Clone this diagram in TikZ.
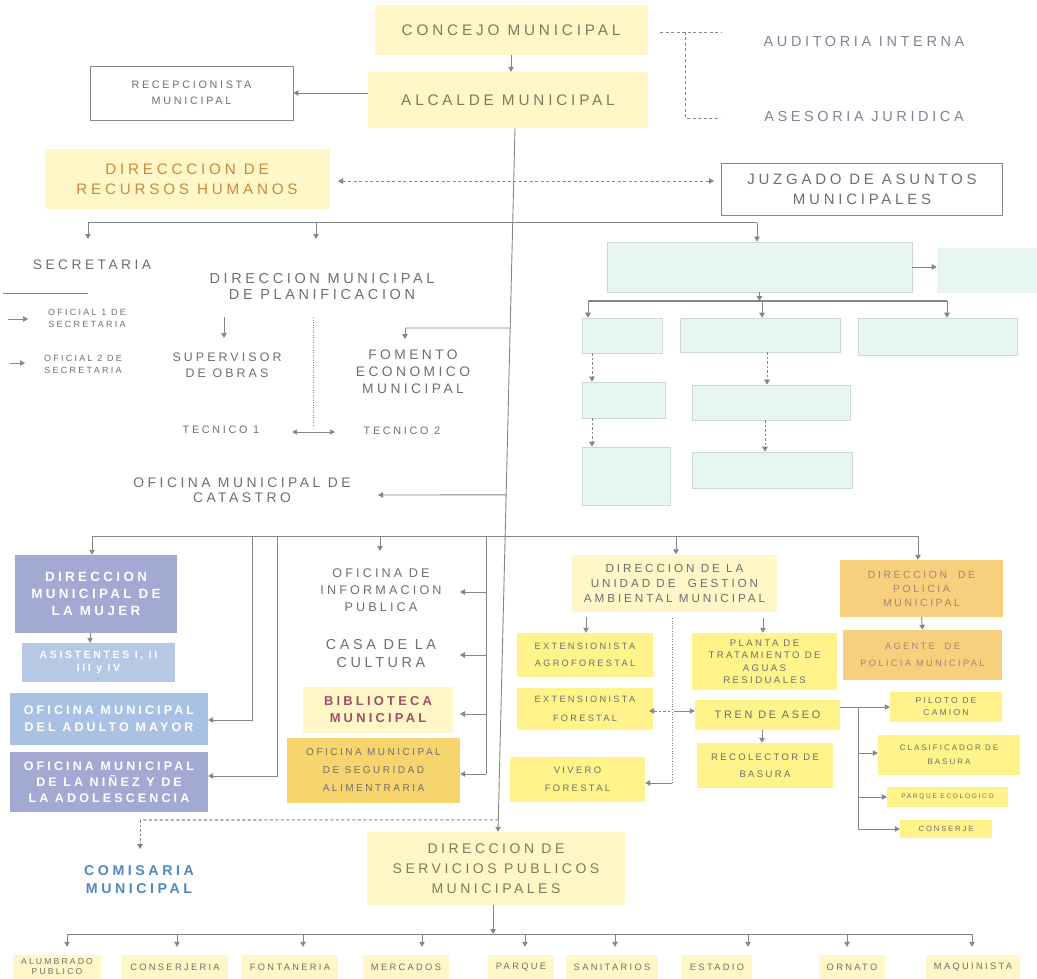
\documentclass[tikz,border=0pt]{standalone}
\usepackage{fontspec}
\setmainfont{Liberation Sans}[LetterSpace=25]
\usetikzlibrary{arrows.meta,calc}
\definecolor{tg}{HTML}{6E6E6E}
\definecolor{lg}{HTML}{858585}
\definecolor{paleY}{HTML}{FFF7C8}
\definecolor{yel}{HTML}{FFF38A}
\definecolor{ora}{HTML}{F8CF7C}
\definecolor{segY}{HTML}{F8D46E}
\definecolor{cyanb}{HTML}{E8F6F3}
\definecolor{cyanl}{HTML}{C8D9D6}
\definecolor{lav}{HTML}{A2A9D3}
\definecolor{lblue}{HTML}{B6C8E4}
\definecolor{mblue}{HTML}{A9C1E2}
\definecolor{orT}{HTML}{C98A3E}
\definecolor{conT}{HTML}{85775F}
\definecolor{audT}{HTML}{7C8494}
\definecolor{bibT}{HTML}{A24E66}
\definecolor{comT}{HTML}{4F88C0}
\definecolor{polT}{HTML}{9A8A78}
\newcommand{\fsz}[2]{\fontsize{#1}{#2}\selectfont}
\begin{document}
\begin{tikzpicture}[x=1pt,y=-1pt,
  every node/.style={text=tg, align=center, inner sep=0pt},
  ln/.style={draw=lg, line width=0.9pt},
  arr/.style={ln, -{Triangle[length=5pt,width=5.5pt]}},
  darr/.style={arr, dash pattern=on 2.5pt off 2pt},
  dsh/.style={ln, dash pattern=on 3pt off 2.5pt},
  pbox/.style={fill=paleY},
  obox/.style={draw=lg, line width=0.8pt},
  ybox/.style={fill=yel},
  cbox/.style={fill=cyanb, draw=cyanl, line width=0.6pt},
  wtxt/.style={text=white}
]
\useasboundingbox (0,0) rectangle (1037,979);

% ---------- top ----------
\node[pbox, minimum width=273pt, minimum height=50pt, font=\fsz{15.3}{18}, text=conT] (concejo) at (511,30) {CONCEJO MUNICIPAL};
\node[pbox, minimum width=280pt, minimum height=56pt, font=\fsz{15.3}{18}, text=conT] (alcalde) at (508,100) {ALCALDE MUNICIPAL};
\node[obox, minimum width=203pt, minimum height=54pt, font=\fsz{10.8}{16}] (recep) at (191.5,93) {RECEPCIONISTA\\MUNICIPAL};
\node[font=\fsz{14.5}{16}, text=audT] (audit) at (864,42) {AUDITORIA INTERNA};
\node[font=\fsz{14.5}{16}, text=audT] (asesor) at (864,117) {ASESORIA JURIDICA};
\node[pbox, minimum width=285pt, minimum height=60pt, font=\fsz{15.2}{20}, text=orT] (rrhh) at (187,179) {DIRECCCION DE\\RECURSOS HUMANOS};
\node[obox, minimum width=281pt, minimum height=52pt, font=\fsz{15}{20}] (juz) at (862,189) {JUZGADO DE ASUNTOS\\MUNICIPALES};

\draw[arr] (concejo.south) -- (alcalde.north -| concejo.south);
\draw[arr] (alcalde.west |- recep.east) -- (recep.east);
\coordinate (k1) at (660,32); \coordinate (k2) at (722,32);
\coordinate (k3) at (685,32); \coordinate (k4) at (685,118); \coordinate (k5) at (720,118);
\draw[dsh] (k1) -- (k2);
\draw[dsh] (k3) -- (k4) -- (k5);
\coordinate (hrA) at (338,181); \coordinate (hrB) at (714,181);
\draw[dsh, {Triangle[length=5pt,width=5.5pt]}-{Triangle[length=5pt,width=5.5pt]}] (hrA) -- (hrB);

% ---------- left middle ----------
\node[font=\fsz{13.8}{15}] (secr) at (92,265) {SECRETARIA};
\node[font=\fsz{14.5}{16}] (planif) at (322,287) {DIRECCION MUNICIPAL\\DE PLANIFICACION};
\node[font=\fsz{9}{12}] (of1) at (87,318) {OFICIAL 1 DE\\SECRETARIA};
\node[font=\fsz{9}{12}] (of2) at (83,364) {OFICIAL 2 DE\\SECRETARIA};
\node[font=\fsz{12.4}{16}] (superv) at (227,365) {SUPERVISOR\\DE OBRAS};
\node[font=\fsz{13.8}{17}] (fomento) at (413,372) {FOMENTO\\ECONOMICO\\MUNICIPAL};
\node[font=\fsz{10.8}{11}] (tec1) at (221,430) {TECNICO 1};
\node[font=\fsz{10.8}{11}] (tec2) at (402,431) {TECNICO 2};
\node[font=\fsz{13.9}{15}] (catastro) at (242,490) {OFICINA MUNICIPAL DE\\CATASTRO};

% ---------- cyan block ----------
\node[cbox, minimum width=305pt, minimum height=50pt] (cb0) at (759.5,267) {};
\node[cbox, draw=cyanb, minimum width=99pt, minimum height=44pt] (cb0r) at (986.5,270) {};
\node[cbox, minimum width=80pt, minimum height=35pt] (cA) at (622,335.5) {};
\node[cbox, minimum width=160pt, minimum height=34pt] (cB) at (760,335) {};
\node[cbox, minimum width=159pt, minimum height=37pt] (cC) at (937.5,336.5) {};
\node[cbox, minimum width=83pt, minimum height=36pt] (cA2) at (623.5,400) {};
\node[cbox, minimum width=88pt, minimum height=58pt] (cA3) at (626,476) {};
\node[cbox, minimum width=158pt, minimum height=35pt] (cB2) at (771,402.5) {};
\node[cbox, minimum width=160pt, minimum height=36pt] (cB3) at (772,470) {};

% ---------- lower left ----------
\node[fill=lav, wtxt, minimum width=162pt, minimum height=78pt, font=\fsz{13.4}{17}\bfseries] (mujer) at (96,594) {DIRECCION\\MUNICIPAL DE\\LA MUJER};
\node[fill=lblue, wtxt, minimum width=153pt, minimum height=39pt, font=\fsz{10.5}{13}\bfseries] (asist) at (98.5,662.5) {ASISTENTES I, II\\III y IV};
\node[fill=mblue, wtxt, minimum width=198pt, minimum height=52pt, font=\fsz{12.5}{17}\bfseries] (adulto) at (109,719) {OFICINA MUNICIPAL\\DEL ADULTO MAYOR};
\node[fill=lav, wtxt, minimum width=198pt, minimum height=60pt, font=\fsz{12.5}{16}\bfseries] (ninez) at (109,782) {OFICINA MUNICIPAL\\DE LA NIÑEZ Y DE\\LA ADOLESCENCIA};

% ---------- middle column ----------
\node[minimum width=150pt, font=\fsz{12.6}{17}] (info) at (381,590) {OFICINA DE\\INFORMACION\\PUBLICA};
\node[minimum width=150pt, font=\fsz{14.4}{18}] (casa) at (381,654) {CASA DE LA\\CULTURA};
\node[pbox, minimum width=150pt, minimum height=46pt, font=\fsz{12.9}{17}\bfseries, text=bibT] (biblio) at (378,710) {BIBLIOTECA\\MUNICIPAL};
\node[fill=segY, minimum width=173pt, minimum height=65pt, font=\fsz{10}{18}] (segur) at (373.5,770.5) {OFICINA MUNICIPAL\\DE SEGURIDAD\\ALIMENTRARIA};

% ---------- UGAM ----------
\node[pbox, minimum width=205pt, minimum height=57pt, font=\fsz{11.7}{15}] (ugam) at (674.5,583) {DIRECCION DE LA\\UNIDAD DE~~GESTION\\AMBIENTAL MUNICIPAL};
\node[ybox, minimum width=136pt, minimum height=44pt, font=\fsz{9.2}{17}] (extA) at (585,655) {EXTENSIONISTA\\AGROFORESTAL};
\node[ybox, minimum width=136pt, minimum height=42pt, font=\fsz{9.2}{19}] (extF) at (585,709) {EXTENSIONISTA\\FORESTAL};
\node[ybox, minimum width=135pt, minimum height=45pt, font=\fsz{9.4}{18}] (vivero) at (577.5,779.5) {VIVERO\\FORESTAL};
\node[ybox, minimum width=145pt, minimum height=57pt, font=\fsz{9.6}{12.5}] (planta) at (764.5,661.5) {PLANTA DE\\TRATAMIENTO DE\\AGUAS\\RESIDUALES};
\node[ybox, minimum width=145pt, minimum height=30pt, font=\fsz{10.9}{12}] (tren) at (767.5,715) {TREN DE ASEO};
\node[ybox, minimum width=136pt, minimum height=45pt, font=\fsz{9.5}{17}] (recol) at (765,765.5) {RECOLECTOR DE\\BASURA};
\node[ybox, minimum width=112pt, minimum height=30pt, font=\fsz{8.6}{12}] (piloto) at (946,707) {PILOTO DE\\CAMION};
\node[ybox, minimum width=142pt, minimum height=40pt, font=\fsz{8}{14}] (clasif) at (949,755) {CLASIFICADOR DE\\BASURA};
\node[ybox, minimum width=121pt, minimum height=20pt, font=\fsz{6.6}{7}] (pareco) at (947.5,797) {PARQUE ECOLOGICO};
\node[ybox, minimum width=92pt, minimum height=18pt, font=\fsz{7.6}{7}] (conserje) at (946,829) {CONSERJE};
\node[fill=ora, minimum width=163pt, minimum height=57pt, font=\fsz{10.4}{14}, text=polT] (policia) at (921.5,588.5) {DIRECCION~~DE\\POLICIA\\MUNICIPAL};
\node[fill=ora, minimum width=159pt, minimum height=50pt, font=\fsz{9.3}{17}, text=polT] (agente) at (922.5,655) {AGENTE~~DE\\POLICIA MUNICIPAL};

% ---------- bottom ----------
\node[pbox, minimum width=258pt, minimum height=73pt, font=\fsz{14}{20}, text=conT] (dirserv) at (496,868.5) {DIRECCION DE\\SERVICIOS PUBLICOS\\MUNICIPALES};
\node[font=\fsz{14.2}{18}\bfseries, text=comT] (comis) at (139,880) {COMISARIA\\MUNICIPAL};
\tikzset{blab/.style={pbox, inner xsep=8pt, minimum height=24pt, font=\fsz{9.3}{10}}}
\node[blab, font=\fsz{8.6}{10}] (alum) at (57,967) {ALUMBRADO\\PUBLICO};
\node[blab] (conserjeria) at (175,967) {CONSERJERIA};
\node[blab] (fontaneria) at (290,967) {FONTANERIA};
\node[blab] (mercados) at (406,967) {MERCADOS};
\node[blab] (parque) at (521,967) {PARQUE};
\node[blab] (sanit) at (612,967) {SANITARIOS};
\node[blab] (estadio) at (717,967) {ESTADIO};
\node[blab] (ornato) at (852,967) {ORNATO};
\node[blab] (maquin) at (973,967) {MAQUINISTA};

% ---------- main spine ----------
\coordinate (mt) at (515,128);
\coordinate (mb) at ($(dirserv.north)+(2,0)$);
\draw[arr] (mt) -- (mb);
\coordinate (j328) at ($(mt)!0.2841!(mb)$);
\coordinate (j495) at ($(mt)!0.5213!(mb)$);
\coordinate (j820) at ($(mt)!0.9830!(mb)$);

% bus 1
\coordinate (b1l) at (88,223); \coordinate (b1m) at (316,223); \coordinate (b1r) at (757,223);
\draw[ln, line width=1pt] (b1l) -- (b1r);
\coordinate (secrT) at (88,239); \draw[arr] (b1l) -- (secrT);
\coordinate (planT) at (316,239); \draw[arr] (b1m) -- (planT);
\draw[arr] (b1r) -- (b1r |- cb0.north);

% secretaria
\coordinate (sl1) at (3,293); \coordinate (sl2) at (88,293);
\draw[ln, line width=0.6pt] (sl1) -- (sl2);
\coordinate (o1a) at (8,319); \coordinate (o1b) at (28,319);
\draw[arr, line width=0.6pt] (o1a) -- (o1b);
\coordinate (o2a) at (10,363); \coordinate (o2b) at (25,363);
\draw[arr, line width=0.6pt] (o2a) -- (o2b);

% planificacion
\coordinate (spA) at (224,317); \coordinate (spB) at (224,338);
\draw[arr, line width=0.6pt] (spA) -- (spB);
\coordinate (dv1) at (313,317); \coordinate (dv2) at (313,427);
\draw[ln, line width=0.5pt, dotted] (dv1) -- (dv2);
\coordinate (fb) at (405,328); \coordinate (fT) at (405,339);
\draw[ln] (j328) -- (fb);
\draw[arr] (fb) -- (fT);
\coordinate (tA) at (292,432); \coordinate (tB) at (335,432);
\draw[ln, line width=0.6pt, {Triangle[length=5pt,width=5pt]}-{Triangle[length=5pt,width=5pt]}] (tA) -- (tB);
\coordinate (catT) at (378,495);
\draw[arr] (j495) -- (catT);

% cyan connectors
\draw[arr] (cb0.east) -- (cb0.east -| cb0r.west);
\coordinate (b2l) at (588,301); \coordinate (b2m) at (762,301); \coordinate (b2r) at (947,301);
\draw[ln, line width=1.2pt] (b2l) -- (b2r);
\draw[arr] (cb0.south) -- (cb0.south |- b2m);
\draw[arr] (b2l) -- (b2l |- cA.north);
\draw[arr] (b2m) -- (b2m |- cB.north);
\draw[arr] (b2r) -- (b2r |- cC.north);
\coordinate (xA) at (592,0); \coordinate (xB) at (767,0); \coordinate (xB2) at (765,0);
\draw[darr] (cA.south -| xA) -- (cA2.north -| xA);
\draw[darr] (cA2.south -| xA) -- (cA3.north -| xA);
\draw[darr] (cB.south -| xB) -- (cB2.north -| xB);
\draw[darr] (cB2.south -| xB2) -- (cB3.north -| xB2);

% bus 3
\coordinate (b3l) at (92,536); \coordinate (b3r) at (918,536);
\draw[ln, line width=1pt] (b3l) -- (b3r);
\draw[arr] (b3l) -- (b3l |- mujer.north);
\coordinate (xM) at (90,0);
\draw[arr] (mujer.south -| xM) -- (asist.north -| xM);
\coordinate (v1t) at (252,536); \coordinate (v1b) at (252,720);
\draw[arr] (v1t) -- (v1b) -- (v1b -| adulto.east);
\coordinate (v2t) at (277,536); \coordinate (v2b) at (277,776);
\draw[arr] (v2t) -- (v2b) -- (v2b -| ninez.east);
\coordinate (infoA) at (380,536); \coordinate (infoT) at (380,551);
\draw[arr] (infoA) -- (infoT);
\coordinate (v3t) at (486,536); \coordinate (v3b) at (486,774);
\draw[ln] (v3t) -- (v3b);
\coordinate (r1) at (486,592); \coordinate (r2) at (486,655); \coordinate (r3) at (486,714);
\coordinate (r1T) at (460,592); \coordinate (r2T) at (460,655); \coordinate (r3T) at (460,714);
\draw[arr] (r1) -- (r1T);
\draw[arr] (r2) -- (r2T);
\draw[arr] (r3) -- (r3T);
\draw[arr] (v3b) -- (segur.east |- v3b);
\coordinate (ugA) at (676,536);
\draw[arr] (ugA) -- (ugA |- ugam.north);
\draw[arr] (b3r) -- (b3r |- policia.north);
\draw[arr] (policia.south) -- (agente.north);

% UGAM internals
\coordinate (xE) at (586,0); \coordinate (xP) at (763,0);
\draw[arr] (ugam.south -| xE) ++(0,5) -- (extA.north -| xE);
\coordinate (pA) at (763,618);
\draw[arr] (pA) -- (planta.north -| xP);
\coordinate (u1) at (672,618); \coordinate (u2) at (672,783);
\draw[ln, line width=0.6pt, dotted] (u1) -- (u2);
\coordinate (fA) at (670,711); \coordinate (fT2) at (649,711);
\draw[darr] (fA) -- (fT2);
\coordinate (tr0) at (674,711);
\draw[arr] (tr0) -- (tren.west |- tr0);
\draw[arr] (u2) -- (vivero.east |- u2);
\coordinate (xR) at (762,0);
\draw[arr] (tren.south -| xR) -- (recol.north -| xR);
\draw[arr, line width=0.6pt] (tren.east |- piloto.west) -- (piloto.west);
\coordinate (w1) at (858,707); \coordinate (w2) at (858,829);
\coordinate (w3) at (858,753); \coordinate (w4) at (858,797);
\draw[ln, line width=0.6pt] (w1) -- (w2);
\draw[arr, line width=0.6pt] (w3) -- (clasif.west |- w3);
\draw[arr, line width=0.6pt] (w4) -- (pareco.west |- w4);
\draw[arr, line width=0.6pt] (w2) -- (conserje.west |- w2);

% dashed to comisaria
\coordinate (cm) at (140,820);
\draw[dsh, line width=1.1pt] (j820) -- (cm);
\coordinate (cmT) at (140,849);
\draw[darr] (cm) -- (cmT);

% bus 4
\coordinate (b4l) at (67,934); \coordinate (b4r) at (973,934); \coordinate (b4s) at (493,934);
\coordinate (xS) at (493,0);
\draw[arr] (dirserv.south -| xS) -- (b4s);
\draw[ln, line width=1pt] (b4l) -- (b4r);
\foreach \xx/\nn in {67/alum,177/conserjeria,303/fontaneria,422/mercados,525/parque,615/sanit,748/estadio,847/ornato,972/maquin}{
  \coordinate (bt) at (\xx,934);
  \draw[arr, shorten >=8pt] (bt) -- (\nn.north -| bt);
}
\end{tikzpicture}
\end{document}
